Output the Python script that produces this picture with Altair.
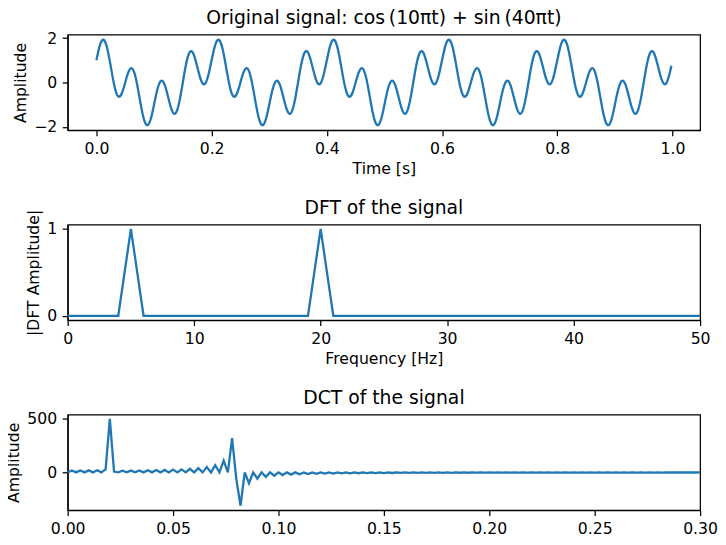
import altair as alt
import pandas as pd

# ---------------- data ----------------
# Original signal, sampled every 0.005 s (plus the last sample at 0.998 s)
signal_time = [round(i * 0.005, 3) for i in range(200)] + [0.998]
signal_amplitude = [
    1.00, 1.58, 1.90, 1.84, 1.40, 0.71, 0.00, -0.50, -0.64, -0.43,
    0.00, 0.43, 0.64, 0.50, 0.00, -0.71, -1.40, -1.84, -1.90, -1.58,
    -1.00, -0.40, 0.00, 0.06, -0.22, -0.71, -1.18, -1.41, -1.26, -0.74,
    0.00, 0.74, 1.26, 1.41, 1.18, 0.71, 0.22, -0.06, 0.00, 0.40,
    1.00, 1.58, 1.90, 1.84, 1.40, 0.71, 0.00, -0.50, -0.64, -0.43,
    0.00, 0.43, 0.64, 0.50, 0.00, -0.71, -1.40, -1.84, -1.90, -1.58,
    -1.00, -0.40, 0.00, 0.06, -0.22, -0.71, -1.18, -1.41, -1.26, -0.74,
    0.00, 0.74, 1.26, 1.41, 1.18, 0.71, 0.22, -0.06, 0.00, 0.40,
    1.00, 1.58, 1.90, 1.84, 1.40, 0.71, 0.00, -0.50, -0.64, -0.43,
    0.00, 0.43, 0.64, 0.50, 0.00, -0.71, -1.40, -1.84, -1.90, -1.58,
    -1.00, -0.40, 0.00, 0.06, -0.22, -0.71, -1.18, -1.41, -1.26, -0.74,
    0.00, 0.74, 1.26, 1.41, 1.18, 0.71, 0.22, -0.06, 0.00, 0.40,
    1.00, 1.58, 1.90, 1.84, 1.40, 0.71, 0.00, -0.50, -0.64, -0.43,
    0.00, 0.43, 0.64, 0.50, 0.00, -0.71, -1.40, -1.84, -1.90, -1.58,
    -1.00, -0.40, 0.00, 0.06, -0.22, -0.71, -1.18, -1.41, -1.26, -0.74,
    0.00, 0.74, 1.26, 1.41, 1.18, 0.71, 0.22, -0.06, 0.00, 0.40,
    1.00, 1.58, 1.90, 1.84, 1.40, 0.71, 0.00, -0.50, -0.64, -0.43,
    0.00, 0.43, 0.64, 0.50, 0.00, -0.71, -1.40, -1.84, -1.90, -1.58,
    -1.00, -0.40, 0.00, 0.06, -0.22, -0.71, -1.18, -1.41, -1.26, -0.74,
    0.00, 0.74, 1.26, 1.41, 1.18, 0.71, 0.22, -0.06, 0.00, 0.40,
    0.75,
]

# DFT magnitude (normalised), 1 Hz bins from 0 to 50 Hz
dft_frequency = list(range(51))
dft_amplitude = [
    0, 0, 0, 0, 0, 1.0, 0, 0, 0, 0,
    0, 0, 0, 0, 0, 0, 0, 0, 0, 0,
    1.0, 0, 0, 0, 0, 0, 0, 0, 0, 0,
    0, 0, 0, 0, 0, 0, 0, 0, 0, 0,
    0, 0, 0, 0, 0, 0, 0, 0, 0, 0,
    0,
]

# DCT coefficients, index spacing 0.002 on the x axis (0 .. 0.30)
dct_index = [round(k * 0.002, 3) for k in range(151)]
dct_amplitude = [
    0, 17.8, 0, 18.1, 0, 18.7, 0, 20.2, 0, 27.2,
    499.8, 7.6, 0, 14.8, 0, 16.8, 0, 18.2, 0, 19.6,
    0, 21.2, 0, 23.1, 0, 25.5, 0, 28.7, 0, 33.0,
    0, 39.3, 0, 49.2, 0, 67.2, 0, 109.2, 0, 319.7,
    -62.7, -312.0, 0, -101.6, 0, -59.5, 0, -41.6, 0, -31.6,
    0, -25.3, 0, -21.0, 0, -17.8, 0, -15.4, 0, -13.5,
    0, -12.0, 0, -10.7, 0, -9.7, 0, -8.8, 0, -8.0,
    0, -7.4, 0, -6.8, 0, -6.3, 0, -5.9, 0, -5.5,
    0, -5.1, 0, -4.8, 0, -4.5, 0, -4.2, 0, -4.0,
    0, -3.8, 0, -3.6, 0, -3.4, 0, -3.2, 0, -3.1,
    0, -2.9, 0, -2.8, 0, -2.7, 0, -2.6, 0, -2.5,
    0, -2.4, 0, -2.3, 0, -2.2, 0, -2.1, 0, -2.0,
    0, -1.9, 0, -1.9, 0, -1.8, 0, -1.7, 0, -1.7,
    0, -1.6, 0, -1.6, 0, -1.5, 0, -1.5, 0, -1.4,
    0, -1.4, 0, -1.3, 0, -1.3, 0, -1.3, 0, -1.2,
    0,
]

panel_titles = [
    "Original signal: cos\u2009(10πt) + sin\u2009(40πt)",
    "DFT of the signal",
    "DCT of the signal",
]

# ---------------- chart ----------------
LINE = "#1f77b4"
W, H = 636, 96


def title_layer(text):
    return alt.Chart(pd.DataFrame({"title": [text]})).mark_text(
        font="DejaVu Sans", fontSize=18.9, color="black",
        align="center", baseline="alphabetic",
    ).encode(
        x=alt.value(W / 2), y=alt.value(-10.8), text="title:N"
    )


sig_df = pd.DataFrame({"t": signal_time, "a": signal_amplitude})
dft_df = pd.DataFrame({"f": dft_frequency, "a": dft_amplitude})
dct_df = pd.DataFrame({"k": dct_index, "a": dct_amplitude})

top_line = alt.Chart(sig_df).mark_line(
    color=LINE, strokeWidth=2.3, interpolate="natural"
).encode(
    x=alt.X("t:Q", scale=alt.Scale(domain=[-0.0499, 1.0479], nice=False, zero=False),
            axis=alt.Axis(values=[0, 0.2, 0.4, 0.6, 0.8, 1.0], format=".1f", title="Time [s]")),
    y=alt.Y("a:Q", scale=alt.Scale(domain=[-2.15, 2.15], nice=False, zero=False),
            axis=alt.Axis(values=[-2, 0, 2], format="d", title="Amplitude")),
)

mid_line = alt.Chart(dft_df).mark_line(
    color=LINE, strokeWidth=2.3
).encode(
    x=alt.X("f:Q", scale=alt.Scale(domain=[0, 50], nice=False),
            axis=alt.Axis(values=[0, 10, 20, 30, 40, 50], format="d", title="Frequency [Hz]")),
    y=alt.Y("a:Q", scale=alt.Scale(domain=[-0.05, 1.05], nice=False, zero=False),
            axis=alt.Axis(values=[0, 1], format="d", title="|DFT Amplitude|")),
)

bot_line = alt.Chart(dct_df).mark_line(
    color=LINE, strokeWidth=2.3
).encode(
    x=alt.X("k:Q", scale=alt.Scale(domain=[0, 0.30], nice=False),
            axis=alt.Axis(values=[0, 0.05, 0.10, 0.15, 0.20, 0.25, 0.30], format=".2f", title=None)),
    y=alt.Y("a:Q", scale=alt.Scale(domain=[-352.6, 540.6], nice=False, zero=False),
            axis=alt.Axis(values=[0, 500], format="d", title="Amplitude")),
)

top = alt.layer(top_line, title_layer(panel_titles[0])).properties(width=W, height=H)
mid = alt.layer(mid_line, title_layer(panel_titles[1])).properties(width=W, height=H)
bot = alt.layer(bot_line, title_layer(panel_titles[2])).properties(width=W, height=H)

chart = alt.vconcat(top, mid, bot, spacing=95, bounds="flush").properties(
    padding={"left": -3, "top": -1.6, "right": -1, "bottom": -2.5}
).configure(
    font="DejaVu Sans",
    background="white",
).configure_view(
    stroke="black", strokeWidth=1.25
).configure_axis(
    grid=False,
    domainColor="black", domainWidth=1.25,
    tickColor="black", tickWidth=1.25, tickSize=5.5,
    labelColor="black", labelFontSize=15.75,
    titleColor="black", titleFontSize=15.75, titleFontWeight="normal",
    labelFont="DejaVu Sans", titleFont="DejaVu Sans",
).configure_axisX(
    labelPadding=6.2, titlePadding=5.5, labelFlush=False,
).configure_axisY(
    labelPadding=5.5, titlePadding=5.3,
)

chart.save("out.html", embed_options={"renderer": "svg", "actions": False})
